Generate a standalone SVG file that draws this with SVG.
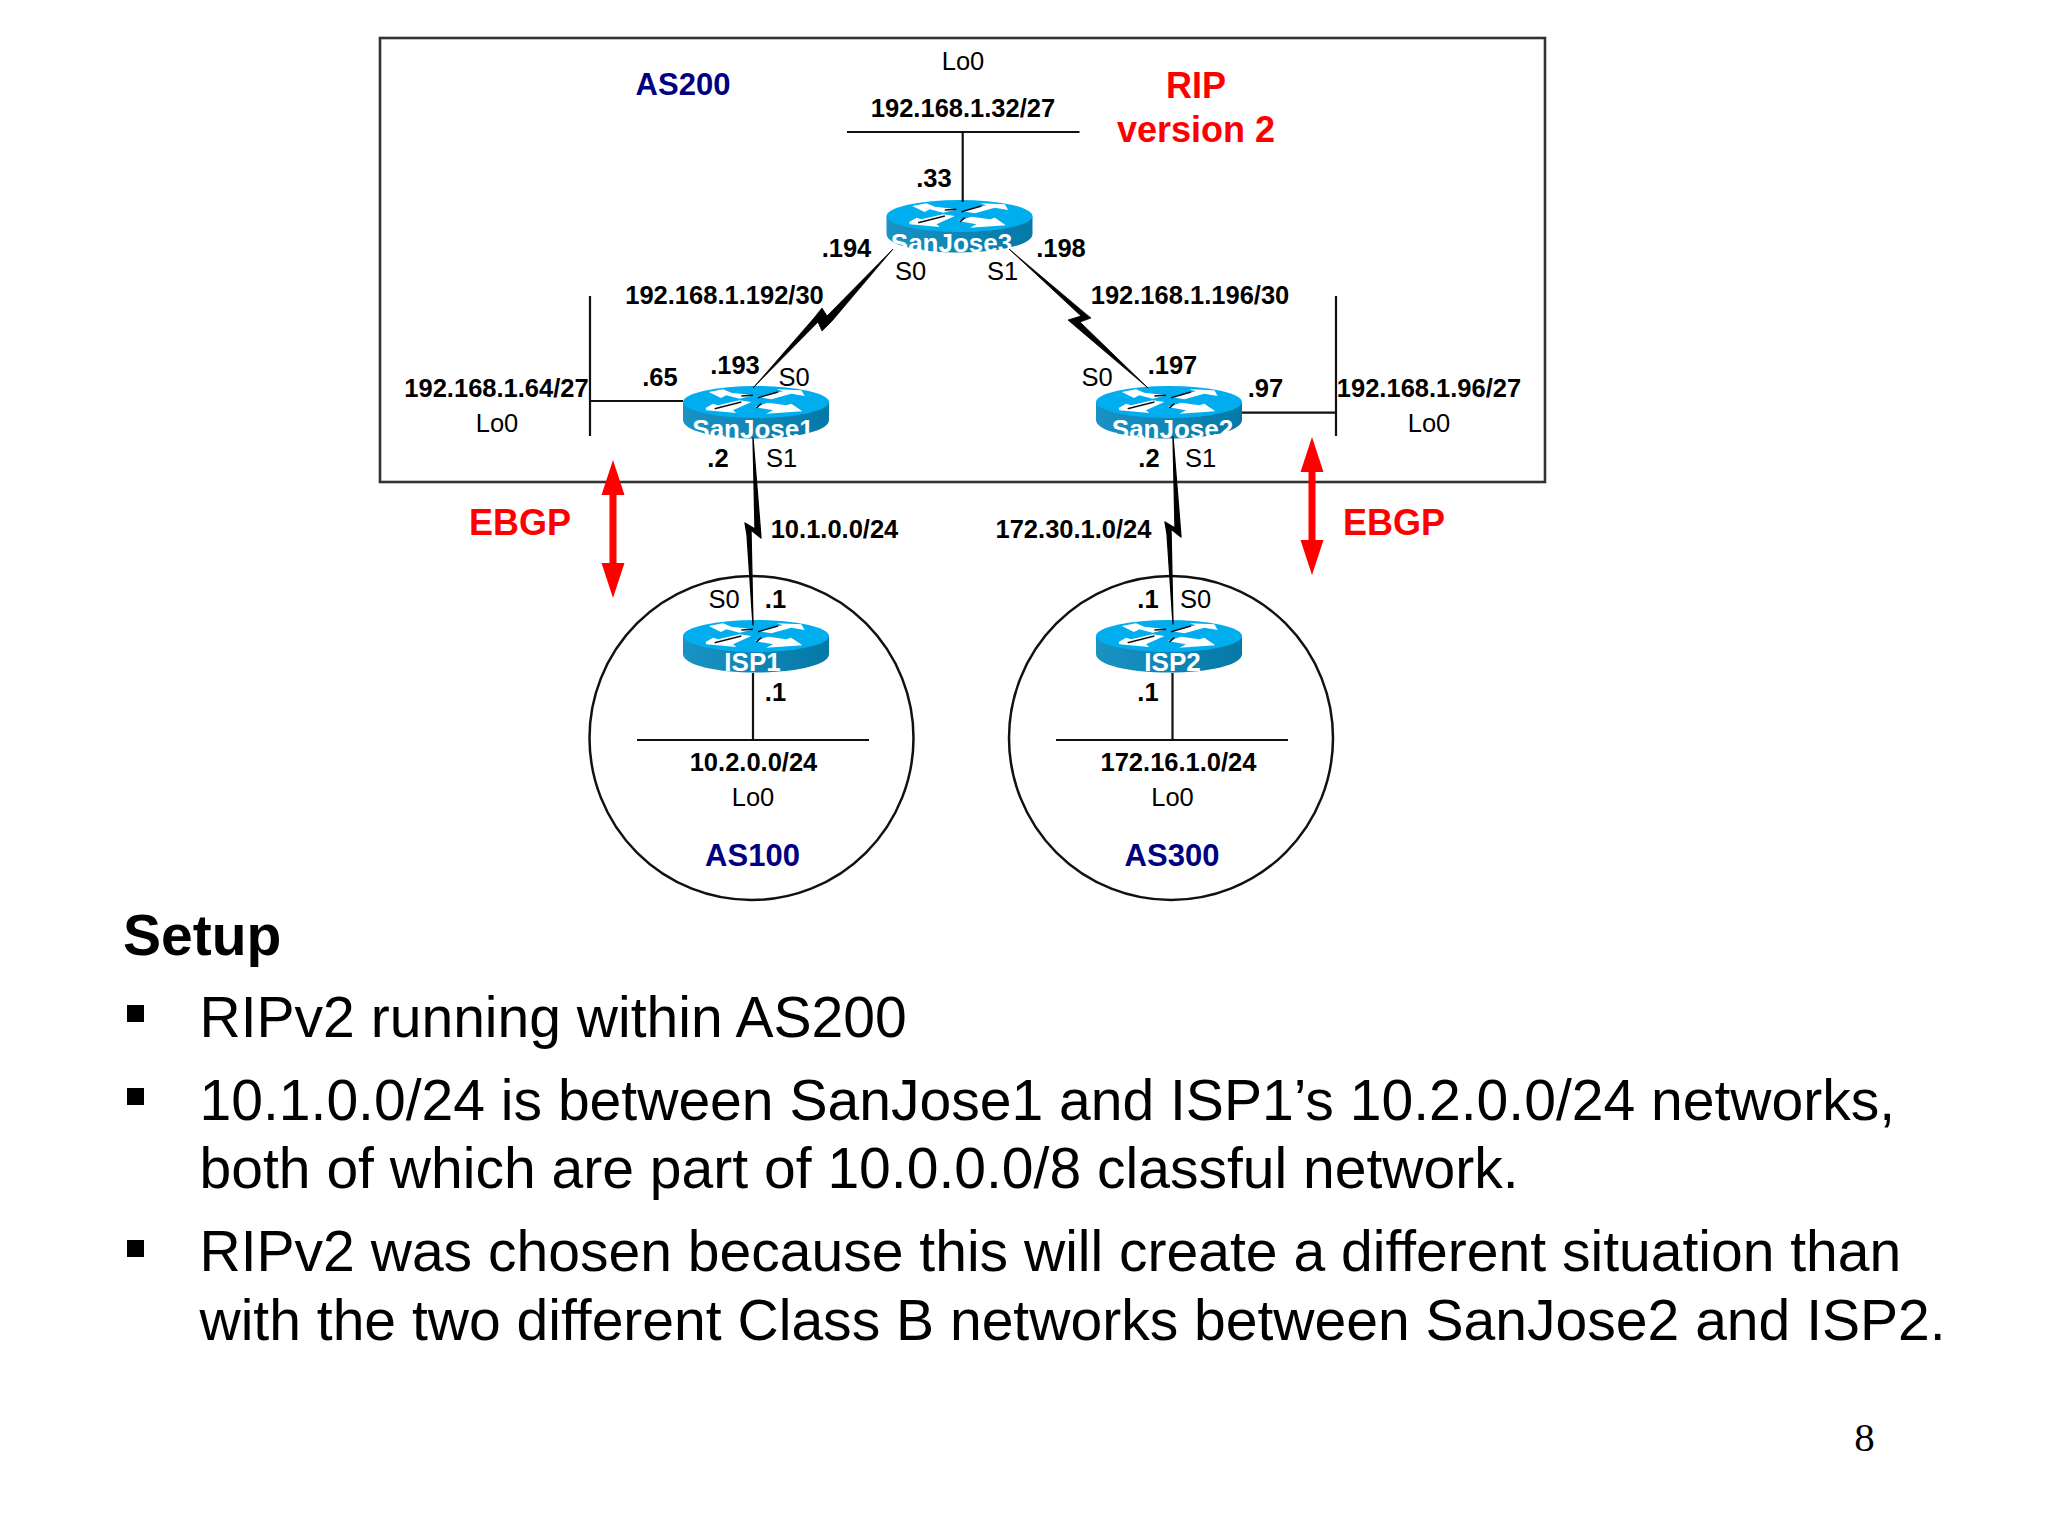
<svg xmlns="http://www.w3.org/2000/svg" width="2048" height="1536" viewBox="0 0 2048 1536">
<style>
text{font-family:"Liberation Sans",Arial,sans-serif;fill:#000}
.b{font-weight:700;font-size:25.5px;text-anchor:middle}
.r{font-size:25.5px;text-anchor:middle}
.n{font-weight:700;font-size:26px;text-anchor:middle;fill:#fff}
.as{font-weight:700;font-size:31px;text-anchor:middle;fill:#000080}
.red{font-weight:700;font-size:36px;text-anchor:middle;fill:#f00}
.h{font-weight:700;font-size:57px}
.t{font-size:57.05px}
.w{stroke:#111;stroke-width:2.2;fill:none}
.zig{fill:#000;stroke:#000;stroke-width:1.3;stroke-linejoin:round}
.zigd{fill:#000;stroke:#000;stroke-width:.8;stroke-linejoin:round}
.bullet{fill:#000}
</style>
<defs>
<linearGradient id="side" x1="0" x2="1" y1="0" y2="0"><stop offset="0" stop-color="#1a92c4"/><stop offset="1" stop-color="#0479a8"/></linearGradient>
<g id="router">
<path d="M-73,16V34C-73,45 -40,52.5 0,52.5S73,45 73,34V16Z" fill="url(#side)"/>
<ellipse cx="0" cy="16" rx="73" ry="16" fill="#00aeef"/>
<g transform="translate(0,16) scale(.3333)">
<g fill="#fff">
<path d="M-142,-30L-99,-38L-74,-28L-7,-20L-49,-10L-89,-20L-105,-12Z"/>
<path d="M6,-15L81,-32L61,-38L136,-35L146,-18L106,-25L46,-8Z"/>
<path d="M-151,18L-129,5L-114,10L-49,-5L-14,0L-69,25L-59,33L-149,25Z"/>
<path d="M-4,15L36,2L91,10L106,5L139,28L31,35L51,25Z"/>
</g>
<path d="M-44,-18L-9,-20M6,-13L66,-30M-124,20L-44,0M1,18L16,5" stroke="#111" stroke-width="4.5" fill="none"/>
</g>
</g>
<path id="bolt" class="zig" d="M753,438L760,525L761,538L751,530L753,625L747,535L745,523L755,529Z"/>
<path id="ebgp" d="M0,0L11.5,35H3.5V103H11.5L0,138L-11.5,103H-3.5V35H-11.5Z" fill="#f00"/>
</defs>
<rect width="2048" height="1536" fill="#fff"/>
<rect id="as200-box" x="380" y="38" width="1165" height="444" fill="none" stroke="#333" stroke-width="2.6"/>
<circle id="as100-circle" cx="751.5" cy="738" r="162" fill="none" stroke="#111" stroke-width="2.5"/>
<circle id="as300-circle" cx="1171" cy="738" r="162" fill="none" stroke="#111" stroke-width="2.5"/>

<g id="SanJose3"><use href="#router" x="959.5" y="200"/><text class="n" x="951.5" y="252">SanJose3</text></g>
<g id="SanJose1"><use href="#router" x="756" y="386"/><text class="n" x="753" y="438">SanJose1</text></g>
<g id="SanJose2"><use href="#router" x="1169" y="386"/><text class="n" x="1172.5" y="438">SanJose2</text></g>
<g id="ISP1"><use href="#router" x="756" y="620"/><text class="n" x="752.5" y="671">ISP1</text></g>
<g id="ISP2"><use href="#router" x="1169" y="620"/><text class="n" x="1172.5" y="671">ISP2</text></g>

<g id="connectors">
<path class="w" d="M847,132H1079.5M962.7,132V202"/>
<path class="w" d="M590,296V436M590,401H683"/>
<path class="w" d="M1336,296V436M1242,412.7H1336"/>
<path class="w" d="M637,740H869M753,673V740"/>
<path class="w" d="M1056,740H1288M1172.5,673V740"/>
<path class="zigd" d="M893,249L832,321L822,331L818,322L753,388L814,318L822,308L827,316Z"/>
<path class="zigd" d="M1009,249L1086,314L1091,318L1080,322L1148,388L1075,326L1068,320L1081,316Z"/>
<use href="#bolt"/>
<use href="#bolt" x="420" y="-1"/>
<use href="#ebgp" x="613" y="460"/>
<use href="#ebgp" x="1312" y="437"/>
</g>

<g id="labels">
<text class="r" x="963" y="70">Lo0</text>
<text class="b" x="963" y="116.7">192.168.1.32/27</text>
<text class="b" x="934" y="187">.33</text>
<text class="b" x="846.5" y="257">.194</text>
<text class="b" x="1061" y="257">.198</text>
<text class="r" x="910.5" y="280">S0</text>
<text class="r" x="1002.5" y="280">S1</text>
<text class="b" x="724.5" y="303.5">192.168.1.192/30</text>
<text class="b" x="1190" y="303.5">192.168.1.196/30</text>
<text class="b" x="660" y="385.5">.65</text>
<text class="b" x="735" y="373.5">.193</text>
<text class="r" x="794" y="385.5">S0</text>
<text class="b" x="718" y="467">.2</text>
<text class="r" x="781.5" y="467">S1</text>
<text class="b" x="834.5" y="537.5">10.1.0.0/24</text>
<text class="b" x="496.5" y="397">192.168.1.64/27</text>
<text class="r" x="497" y="432">Lo0</text>
<text class="r" x="1097" y="385.5">S0</text>
<text class="b" x="1172.5" y="373.5">.197</text>
<text class="b" x="1265.5" y="397">.97</text>
<text class="b" x="1429" y="397">192.168.1.96/27</text>
<text class="r" x="1429" y="432">Lo0</text>
<text class="b" x="1149" y="467">.2</text>
<text class="r" x="1200.5" y="467">S1</text>
<text class="b" x="1073.5" y="537.5">172.30.1.0/24</text>
<text class="red" x="520" y="534.5">EBGP</text>
<text class="red" x="1394" y="534.5">EBGP</text>
<text class="as" x="683" y="94.5">AS200</text>
<text class="red" x="1196" y="98">RIP</text>
<text class="red" x="1196" y="142">version 2</text>
<text class="b" x="775.5" y="607.5">.1</text>
<text class="r" x="724" y="607.5">S0</text>
<text class="b" x="775.5" y="701">.1</text>
<text class="b" x="753.5" y="771">10.2.0.0/24</text>
<text class="r" x="753" y="806">Lo0</text>
<text class="as" x="752.5" y="866">AS100</text>
<text class="b" x="1148" y="607.5">.1</text>
<text class="r" x="1195.5" y="607.5">S0</text>
<text class="b" x="1148" y="701">.1</text>
<text class="b" x="1178.5" y="771">172.16.1.0/24</text>
<text class="r" x="1172.5" y="806">Lo0</text>
<text class="as" x="1172" y="866">AS300</text>
</g>

<g id="body">
<text class="h" x="123" y="955">Setup</text>
<rect class="bullet" x="127" y="1005" width="17" height="17"/>
<rect class="bullet" x="127" y="1088" width="17" height="17"/>
<rect class="bullet" x="127" y="1240" width="17" height="17"/>
<text class="t" x="199.5" y="1037">RIPv2 running within AS200</text>
<text class="t" x="199.5" y="1119.5">10.1.0.0/24 is between SanJose1 and ISP1’s 10.2.0.0/24 networks,</text>
<text class="t" x="199.5" y="1188">both of which are part of 10.0.0.0/8 classful network.</text>
<text class="t" x="199.5" y="1271">RIPv2 was chosen because this will create a different situation than</text>
<text class="t" x="199.5" y="1339.5">with the two different Class B networks between SanJose2 and ISP2.</text>
<text x="1864.5" y="1451" text-anchor="middle" style="font-family:'Liberation Serif',serif;font-size:41px">8</text>
</g>
</svg>
